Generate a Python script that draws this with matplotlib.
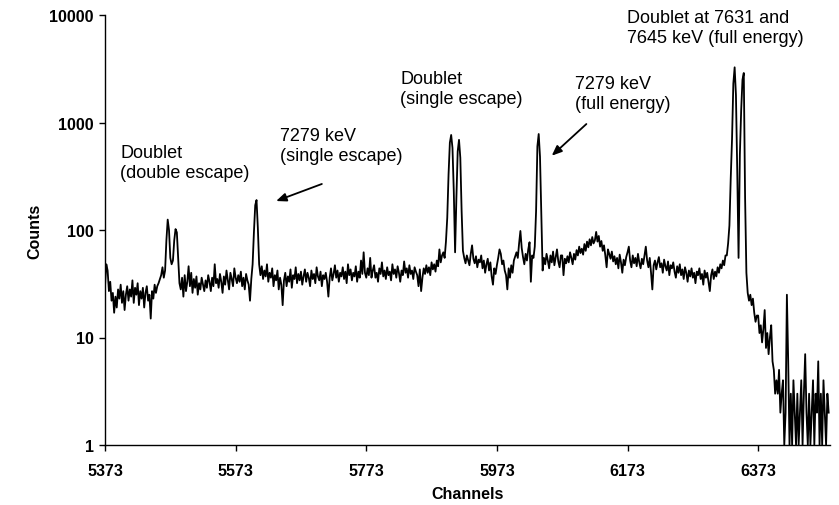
import numpy as np
import matplotlib
matplotlib.use("Agg")
import matplotlib.pyplot as plt

# ---------------- data (counts every 2 channels, starting at channel 5373) ----------------
start_channel = 5373
channel_step = 2

counts_5373 = [30, 48, 42, 27, 33, 22, 26, 17, 24, 19, 28, 23, 31, 21, 27, 18, 25, 30, 22, 28,
               24, 34, 21, 29, 25, 32, 20, 27, 23, 29, 19, 26, 30, 22, 25, 15, 27, 23, 31, 26,
               30, 32, 35, 38, 45, 36, 42, 80, 125, 100]
counts_5473 = [55, 48, 52, 80, 102, 95, 55, 32, 28, 36, 24, 38, 27, 33, 46, 30, 40, 26, 35, 29,
               37, 25, 32, 28, 36, 31, 27, 34, 29, 38, 33, 27, 36, 30, 48, 32, 35, 29, 39, 33,
               26, 37, 31, 42, 34, 28, 40, 35, 30, 44]
counts_5573 = [36, 32, 38, 33, 41, 30, 36, 28, 39, 34, 31, 22, 35, 48, 95, 170, 190, 105, 48, 38,
               46, 35, 42, 37, 48, 33, 40, 36, 44, 30, 38, 34, 42, 28, 36, 31, 20, 34, 40, 30,
               37, 33, 43, 29, 38, 35, 45, 32, 39, 34]
counts_5673 = [41, 31, 37, 43, 33, 40, 36, 30, 42, 35, 39, 32, 45, 37, 34, 41, 30, 38, 35, 40,
               33, 24, 36, 44, 34, 39, 47, 36, 42, 33, 40, 37, 45, 35, 41, 32, 48, 38, 43, 34,
               40, 37, 46, 33, 41, 36, 52, 39, 62, 40]
counts_5773 = [36, 44, 38, 55, 36, 42, 47, 36, 40, 33, 44, 39, 50, 37, 42, 35, 45, 38, 41, 34,
               48, 39, 43, 36, 46, 40, 33, 42, 38, 51, 40, 44, 36, 47, 39, 42, 35, 45, 41, 38,
               30, 43, 27, 36, 44, 39, 47, 40, 45, 38]
counts_5873 = [50, 43, 48, 41, 52, 46, 66, 50, 58, 62, 55, 78, 130, 330, 650, 766, 580, 230, 62, 200,
               540, 690, 470, 150, 64, 55, 49, 58, 52, 47, 60, 72, 54, 49, 57, 45, 53, 50, 58, 44,
               52, 40, 48, 54, 42, 50, 37, 31, 44, 39]
counts_5973 = [47, 55, 66, 60, 48, 52, 42, 38, 28, 44, 36, 47, 40, 52, 57, 62, 55, 75, 98, 68,
               56, 48, 60, 52, 66, 77, 33, 58, 55, 70, 150, 600, 782, 480, 140, 42, 55, 48, 60, 52,
               44, 58, 50, 63, 47, 56, 66, 51, 45, 58]
counts_6073 = [58, 38, 54, 49, 57, 50, 62, 55, 48, 60, 53, 65, 58, 70, 61, 67, 59, 74, 64, 78,
               69, 82, 72, 86, 75, 80, 96, 78, 88, 70, 79, 64, 72, 58, 45, 66, 60, 54, 63, 51,
               57, 48, 55, 44, 59, 50, 40, 53, 47, 56]
counts_6173 = [62, 70, 52, 45, 58, 49, 55, 46, 60, 50, 44, 54, 48, 58, 70, 52, 45, 55, 40, 28,
               47, 52, 43, 50, 56, 45, 49, 40, 53, 46, 42, 51, 38, 47, 44, 50, 41, 36, 46, 40,
               48, 38, 43, 35, 45, 40, 33, 42, 37, 44]
counts_6273 = [36, 40, 32, 41, 38, 44, 35, 39, 31, 42, 36, 40, 33, 27, 38, 43, 35, 41, 37, 45,
               40, 48, 44, 52, 47, 58, 58, 75, 110, 300, 700, 2300, 3260, 1800, 350, 55, 500, 1300, 2500, 2890,
               200, 40, 26, 22, 25, 20, 23, 17, 14, 16]
counts_6373 = [16, 11, 13, 9, 12, 18, 8, 11, 7, 10, 13, 6, 5, 3, 4, 3, 5, 2, 3, 4,
               1, 2, 25, 6, 1, 3, 1, 4, 2, 1, 3, 1, 2, 4, 1, 3, 7, 2, 1, 3,
               1, 2, 4, 1, 3, 2, 6, 1, 3, 1, 4, 2, 1, 3, 2]

x_tick_values = [5373, 5573, 5773, 5973, 6173, 6373]
x_tick_labels = ["5373", "5573", "5773", "5973", "6173", "6373"]
y_tick_values = [1, 10, 100, 1000, 10000]
y_tick_labels = ["1", "10", "100", "1000", "10000"]

counts = np.array(counts_5373 + counts_5473 + counts_5573 + counts_5673 + counts_5773 +
                  counts_5873 + counts_5973 + counts_6073 + counts_6173 + counts_6273 +
                  counts_6373, dtype=float)
channels = start_channel + channel_step * np.arange(len(counts))

# ---------------- figure ----------------
plt.rcParams['font.family'] = ['Liberation Sans', 'DejaVu Sans']

fig = plt.figure(figsize=(8.39, 5.06), dpi=100)
ax = fig.add_axes([105 / 839, 1 - 446 / 506, (830 - 105) / 839, (446 - 16) / 506])

ax.plot(channels, counts, color='black', lw=1.3)

ax.set_yscale('log')
ax.set_xlim(5373, 6483)
ax.set_ylim(1, 10000)
ax.yaxis.set_minor_locator(matplotlib.ticker.NullLocator())
ax.set_yticks(y_tick_values)
ax.set_yticklabels(y_tick_labels)
ax.set_xticks(x_tick_values)
ax.set_xticklabels(x_tick_labels)

for lab in ax.get_xticklabels() + ax.get_yticklabels():
    lab.set_fontweight('bold')
    lab.set_fontsize(11.5)

ax.tick_params(direction='out', length=4, width=1, colors='black')
ax.tick_params(axis='y', pad=4)
ax.tick_params(axis='x', pad=9)
for side in ['top', 'right']:
    ax.spines[side].set_visible(False)
for side in ['left', 'bottom']:
    ax.spines[side].set_linewidth(1.0)

ax.set_xlabel('Channels', fontsize=11.5, fontweight='bold', labelpad=6)
ax.set_ylabel('Counts', fontsize=11.5, fontweight='bold', labelpad=5)

txt = dict(fontsize=13, va='top', ha='left', linespacing=1.2, clip_on=False)
ax.text(5396, 630, 'Doublet\n(double escape)', **txt)
ax.text(5641, 900, '7279 keV\n(single escape)', **txt)
ax.text(5825, 3050, 'Doublet\n(single escape)', **txt)
ax.text(6092, 2750, '7279 keV\n(full energy)', **txt)
ax.text(6172, 11300, 'Doublet at 7631 and\n7645 keV (full energy)', **txt)

arrow = dict(arrowstyle='-|>,head_length=0.6,head_width=0.25', color='black', lw=1.3,
             shrinkA=0, shrinkB=0)
ax.annotate('', xy=(5635, 186), xytext=(5705, 268), arrowprops=arrow)
ax.annotate('', xy=(6057, 491), xytext=(6110, 968), arrowprops=arrow)

fig.savefig('out.png', dpi=100)
